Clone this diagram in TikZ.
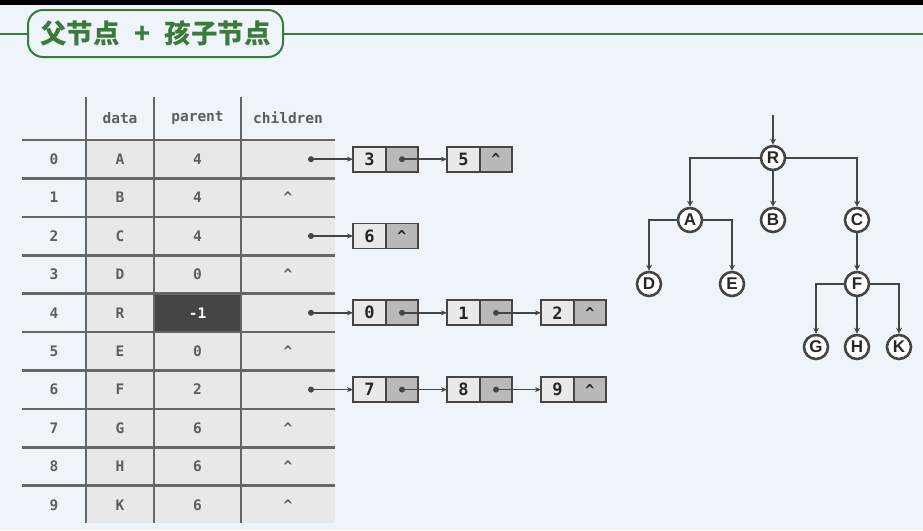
\documentclass[tikz,border=0pt]{standalone}
\usepackage{fontspec}
\setmainfont{Liberation Sans}
\newfontfamily\cjk{Noto Sans CJK SC}
\newfontfamily\mono{DejaVu Sans Mono}
\usetikzlibrary{arrows.meta}
\definecolor{bg}{HTML}{EEF4FA}
\definecolor{ttlgreen}{HTML}{3A7A3A}
\definecolor{tblgray}{HTML}{E8E8E8}
\definecolor{tline}{HTML}{666666}
\definecolor{txtgray}{HTML}{5E5E5E}
\definecolor{darkcell}{HTML}{454545}
\definecolor{cellA}{HTML}{E9E9E9}
\definecolor{cellB}{HTML}{B9B9B9}
\definecolor{boxline}{HTML}{454545}
\tikzset{
  titlebox/.style={draw=ttlgreen,line width=2pt,rounded corners=15pt,fill=bg,minimum width=255pt,minimum height=47pt,inner sep=0pt,text=ttlgreen,font=\cjk\bfseries\fontsize{26.5}{30}\selectfont},
  tblline/.style={draw=tline,line width=2.6pt},
  ttxt/.style={text=txtgray,font=\mono\bfseries\fontsize{14.5}{17}\selectfont,inner sep=0pt},
  vcell/.style={draw=boxline,line width=1.8pt,fill=cellA,minimum width=33pt,minimum height=25pt,inner sep=0pt,outer sep=0pt,anchor=west,font=\mono\bfseries\fontsize{17}{19}\selectfont,text=black!85},
  pcell/.style={draw=boxline,line width=1.8pt,fill=cellB,minimum width=32pt,minimum height=25pt,inner sep=0pt,outer sep=0pt,anchor=west,font=\mono\bfseries\fontsize{15}{17}\selectfont,text=black!85},
  dotn/.style={circle,fill=boxline,minimum size=6pt,inner sep=0pt},
  arr/.style={draw=boxline,line width=1.6pt,-{Stealth[length=6pt,width=5pt]}},
  tn/.style={circle,draw=boxline,line width=2.6pt,fill=white,minimum size=24pt,inner sep=0pt,font=\bfseries\fontsize{17}{19}\selectfont,text=black!85},
  tarr/.style={draw=boxline,line width=2.8pt,-{Stealth[length=6pt,width=6pt]}},
}
\begin{document}
\begin{tikzpicture}[x=1pt,y=-1pt]
\useasboundingbox (0,0) rectangle (923,530);
\fill[bg] (0,0) rectangle (923,530);
\fill[black] (0,0) rectangle (923,5);
% title
\node[titlebox] (title) at (155.5,33.5) {父节点\hspace{0.55em}+\hspace{0.55em}孩子节点};
\coordinate (tl) at (0,33.5);
\coordinate (tr) at (923,33.5);
\draw[ttlgreen,line width=2pt] (tl) -- (title.west);
\draw[ttlgreen,line width=2pt] (title.east) -- (tr);
% table
\fill[tblgray] (86,140) rectangle (335,523);
\fill[darkcell] (154,293.6) rectangle (241,332);
\foreach \i in {0,...,9}{
  \draw[tblline] (22,{140+38.4*\i}) -- (335,{140+38.4*\i});
}
\foreach \x in {86,154,241}{
  \draw[tblline] (\x,97) -- (\x,523);
}
\node[ttxt] (hdata) at (120,118) {data};
\node[ttxt] (hpar) at (197.5,118) {parent};
\node[ttxt] (hchd) at (288,118) {children};
\foreach \i/\d/\p/\c in {0/A/4/1,1/B/4/0,2/C/4/1,3/D/0/0,4/R/-1/1,5/E/0/0,6/F/2/1,7/G/6/0,8/H/6/0,9/K/6/0}{
  \node[ttxt] (idx\i) at (54,{159.2+38.4*\i}) {\i};
  \node[ttxt] (dat\i) at (120,{159.2+38.4*\i}) {\d};
  \ifnum\i=4
    \node[ttxt,text=white] (par\i) at (197.5,{159.2+38.4*\i}) {\p};
  \else
    \node[ttxt] (par\i) at (197.5,{159.2+38.4*\i}) {\p};
  \fi
  \ifnum\c=0
    \node[ttxt] (chd\i) at (288,{159.2+38.4*\i}) {\char"5E};
  \fi
}
% linked lists
% row 0: 3 -> 5
\node[dotn] (d0) at (311,159.2) {};
\node[vcell] (a0v1) at (353,159.2) {3};
\node[pcell] (a0p1) at (a0v1.east) {};
\node[vcell] (a0v2) at (447,159.2) {5};
\node[pcell] (a0p2) at (a0v2.east) {\char"5E};
\node[dotn] (a0q1) at (a0p1.center) {};
\draw[arr] (d0.center) -- (a0v1.west);
\draw[arr] (a0q1.center) -- (a0v2.west);
% row 2: 6
\node[dotn] (d2) at (311,236) {};
\node[vcell] (a2v1) at (353,236) {6};
\node[pcell] (a2p1) at (a2v1.east) {\char"5E};
\draw[arr] (d2.center) -- (a2v1.west);
% row 4: 0 -> 1 -> 2
\node[dotn] (d4) at (311,312.8) {};
\node[vcell] (a4v1) at (353,312.8) {0};
\node[pcell] (a4p1) at (a4v1.east) {};
\node[vcell] (a4v2) at (447,312.8) {1};
\node[pcell] (a4p2) at (a4v2.east) {};
\node[vcell] (a4v3) at (541,312.8) {2};
\node[pcell] (a4p3) at (a4v3.east) {\char"5E};
\node[dotn] (a4q1) at (a4p1.center) {};
\node[dotn] (a4q2) at (a4p2.center) {};
\draw[arr] (d4.center) -- (a4v1.west);
\draw[arr] (a4q1.center) -- (a4v2.west);
\draw[arr] (a4q2.center) -- (a4v3.west);
% row 6: 7 -> 8 -> 9
\node[dotn] (d6) at (311,389.6) {};
\node[vcell] (a6v1) at (353,389.6) {7};
\node[pcell] (a6p1) at (a6v1.east) {};
\node[vcell] (a6v2) at (447,389.6) {8};
\node[pcell] (a6p2) at (a6v2.east) {};
\node[vcell] (a6v3) at (541,389.6) {9};
\node[pcell] (a6p3) at (a6v3.east) {\char"5E};
\node[dotn] (a6q1) at (a6p1.center) {};
\node[dotn] (a6q2) at (a6p2.center) {};
\draw[arr] (d6.center) -- (a6v1.west);
\draw[arr] (a6q1.center) -- (a6v2.west);
\draw[arr] (a6q2.center) -- (a6v3.west);
% tree
\coordinate (top) at (773,115);
\node[tn] (R) at (773,158) {R};
\node[tn] (A) at (690,220) {A};
\node[tn] (B) at (773,220) {B};
\node[tn] (C) at (857,220) {C};
\node[tn] (D) at (649,284) {D};
\node[tn] (E) at (732,284) {E};
\node[tn] (F) at (857,284) {F};
\node[tn] (G) at (816,347) {G};
\node[tn] (H) at (857,347) {H};
\node[tn] (K) at (899,347) {K};
\draw[tarr] (top) -- (R.north);
\draw[tarr] (R.west) -| (A.north);
\draw[tarr] (R.south) -- (B.north);
\draw[tarr] (R.east) -| (C.north);
\draw[tarr] (A.west) -| (D.north);
\draw[tarr] (A.east) -| (E.north);
\draw[tarr] (C.south) -- (F.north);
\draw[tarr] (F.west) -| (G.north);
\draw[tarr] (F.south) -- (H.north);
\draw[tarr] (F.east) -| (K.north);
\end{tikzpicture}
\end{document}
